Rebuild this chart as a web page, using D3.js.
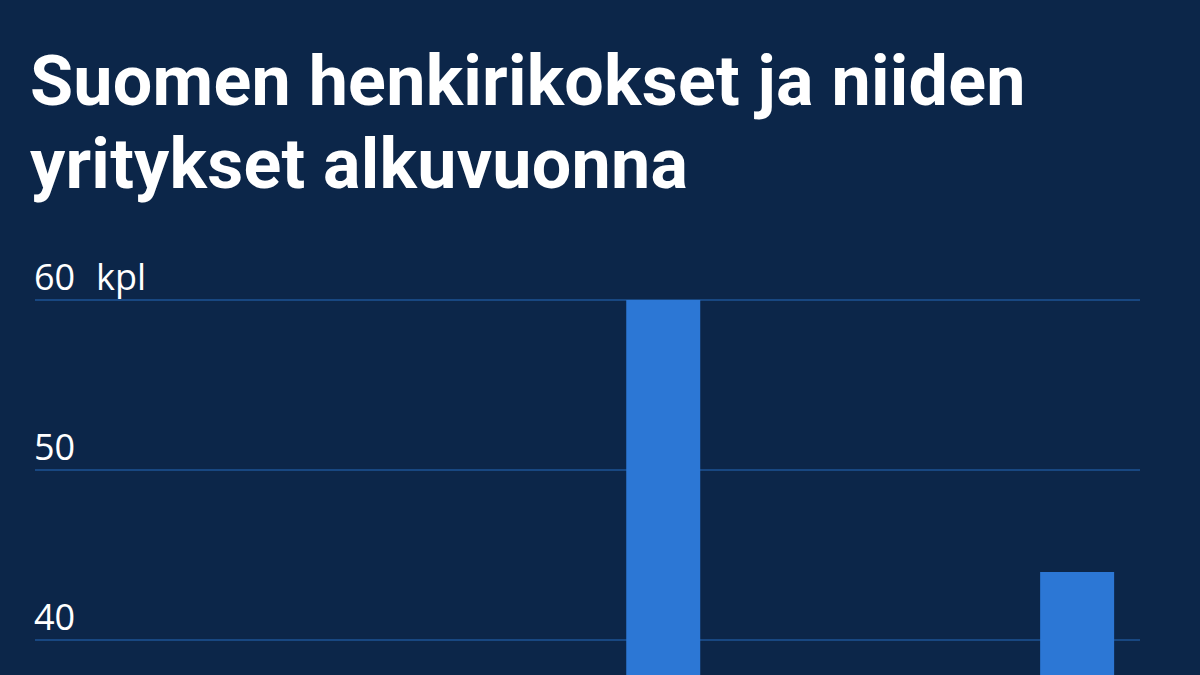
<!DOCTYPE html>
<html>
<head>
<meta charset="utf-8">
<script src="https://cdn.jsdelivr.net/npm/d3@7"></script>
<style>
  html, body { margin: 0; padding: 0; background: #0c2649; overflow: hidden; }
</style>
</head>
<body>
<div id="chart"></div>
<script>
// data (only the top of the chart is visible, the lower bars stay below 40)
const years = ["2015", "2016", "2017", "2018", "2019", "2020", "2021", "2022", "2023", "2024"];
const values = [34, 31, 29, 33, 30, 60, 32, 35, 36, 44];
const yTicks = [40, 50, 60];
const titleLines = ["Suomen henkirikokset ja niiden", "yritykset alkuvuonna"];
const unit = "kpl";

const width = 1200;
const height = 675;

const svg = d3.select("#chart")
  .append("svg")
  .attr("width", width)
  .attr("height", height)
  .style("background", "#0c2649");

// scales
const x = d3.scaleBand()
  .domain(years)
  .range([83, 1140])
  .paddingInner(0.285)
  .paddingOuter(0.25);

const y = d3.scaleLinear()
  .domain([0, 60])
  .range([1320, 300]);

// title
svg.append("g")
  .selectAll("text")
  .data(titleLines)
  .join("text")
  .attr("x", 30)
  .attr("y", (d, i) => 105 + i * 83)
  .attr("fill", "#ffffff")
  .style("font-family", "Roboto, sans-serif")
  .style("font-weight", 700)
  .style("font-size", "70px")
  .style("letter-spacing", "0.25px")
  .text(d => d);

// grid
const grid = svg.append("g");
grid.selectAll("line")
  .data(yTicks)
  .join("line")
  .attr("x1", 35)
  .attr("x2", 1140)
  .attr("y1", d => y(d))
  .attr("y2", d => y(d))
  .attr("stroke", "#1d5394")
  .attr("stroke-width", 1.5);

grid.selectAll("text")
  .data(yTicks)
  .join("text")
  .attr("x", 34)
  .attr("y", d => y(d) - 10)
  .attr("fill", "#ffffff")
  .style("font-family", "'Open Sans', sans-serif")
  .style("font-size", "36px")
  .text(d => d);

// unit next to the top tick
svg.append("text")
  .attr("x", 96)
  .attr("y", y(d3.max(yTicks)) - 10)
  .attr("fill", "#ffffff")
  .style("font-family", "'Open Sans', sans-serif")
  .style("font-size", "36px")
  .text(unit);

// bars
svg.append("g")
  .selectAll("rect")
  .data(values)
  .join("rect")
  .attr("x", (d, i) => x(years[i]))
  .attr("width", x.bandwidth())
  .attr("y", d => y(d))
  .attr("height", d => y(0) - y(d))
  .attr("fill", "#2c77d5");
</script>
</body>
</html>
